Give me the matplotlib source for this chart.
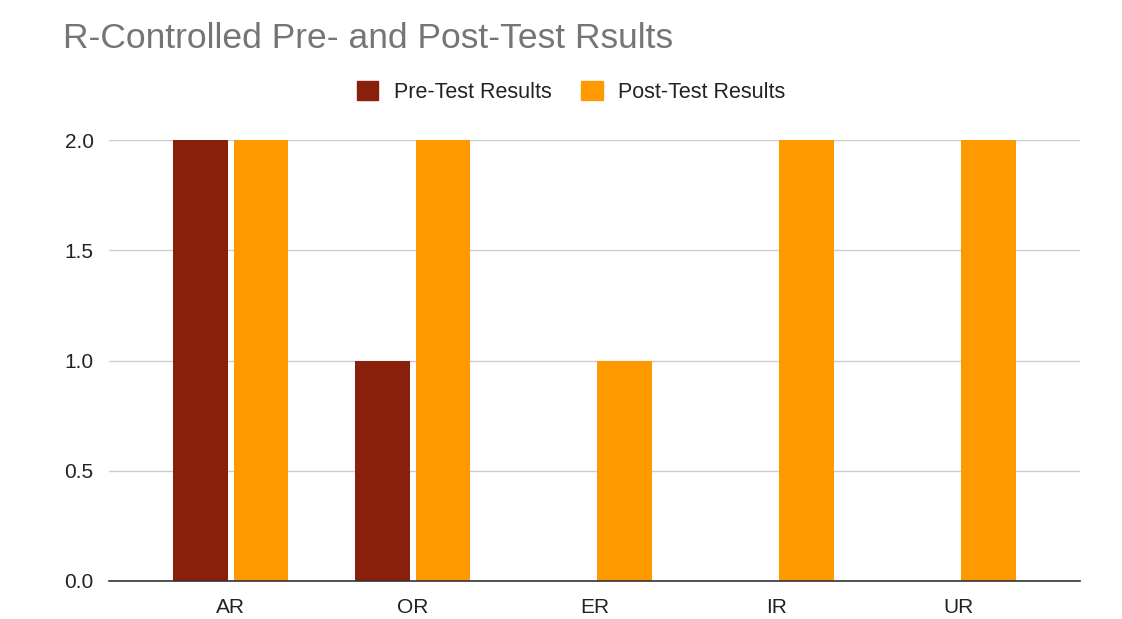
import numpy as np
from matplotlib import pyplot as plt
from matplotlib.patches import Patch

categories = ['AR', 'OR', 'ER', 'IR', 'UR']
pre_test = [2, 1, 0, 0, 0]
post_test = [2, 2, 1, 2, 2]
y_ticks = [0.0, 0.5, 1.0, 1.5, 2.0]

PRE_COLOR = '#8a1f0b'
POST_COLOR = '#ff9900'

plt.rcParams['font.family'] = ['Liberation Sans', 'DejaVu Sans']

fig = plt.figure(figsize=(11.22, 6.19), dpi=100)
ax = fig.add_axes([0.0971, 0.0614, 0.8655, 0.7124])

x = np.arange(len(categories))
width = 0.30
ax.bar(x - 0.166, pre_test, width, color=PRE_COLOR, zorder=3)
ax.bar(x + 0.166, post_test, width, color=POST_COLOR, zorder=3)

ax.set_xlim(-0.67, len(categories) - 1 + 0.67)
ax.set_ylim(0, 2.0)
ax.set_yticks(y_ticks)
ax.set_yticklabels([f'{v:.1f}' for v in y_ticks])
ax.set_xticks(x)
ax.set_xticklabels(categories)
ax.tick_params(axis='both', length=0, labelsize=15, colors='#222222')
ax.tick_params(axis='x', pad=12)
ax.tick_params(axis='y', pad=11)

ax.grid(axis='y', color='#cccccc', linewidth=1, zorder=0)
for side in ['top', 'right', 'left']:
    ax.spines[side].set_visible(False)
ax.spines['bottom'].set_color('#333333')
ax.spines['bottom'].set_linewidth(1.2)
ax.spines['bottom'].set_zorder(4)

fig.text(0.056, 0.922, 'R-Controlled Pre- and Post-Test Rsults', fontsize=25.5,
         color='#757575', ha='left', va='baseline')

handles = [Patch(color=PRE_COLOR, label='Pre-Test Results'),
           Patch(color=POST_COLOR, label='Post-Test Results')]
fig.legend(handles=handles, loc='center', bbox_to_anchor=(0.509, 0.851), ncol=2,
           frameon=False, fontsize=15.5, handlelength=1.0, handleheight=1.0,
           handletextpad=0.7, columnspacing=1.4, labelcolor='#222222')

fig.savefig('out.png', dpi=100)
